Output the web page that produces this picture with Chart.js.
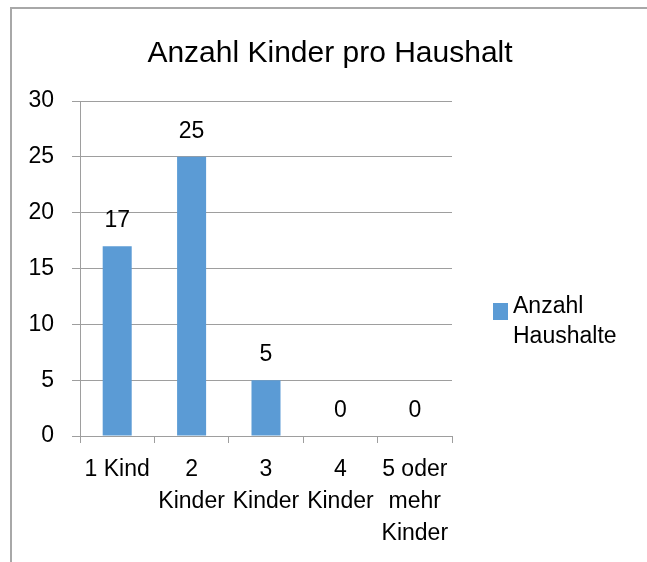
<!DOCTYPE html>
<html>
<head>
<meta charset="utf-8">
<script src="https://cdn.jsdelivr.net/npm/chart.js@4"></script>
<style>
  html, body { margin: 0; padding: 0; background: #fff; overflow: hidden; }
  #frame {
    position: absolute; left: 10px; top: 7px; width: 700px; height: 600px;
    border-top: 2px solid #a8a8a8; border-left: 2px solid #a8a8a8;
  }
  #wrap { position: absolute; left: 0; top: 0; width: 647px; height: 562px; }
</style>
</head>
<body>
<div id="frame"></div>
<div id="wrap"><canvas id="chart"></canvas></div>
<script>
// chart data
const chartTitle = 'Anzahl Kinder pro Haushalt';
const categories = ['1 Kind', ['2', 'Kinder'], ['3', 'Kinder'], ['4', 'Kinder'], ['5 oder', 'mehr', 'Kinder']];
const seriesName = 'Anzahl Haushalte';
const households = [17, 25, 5, 0, 0];
const yTicks = [0, 5, 10, 15, 20, 25, 30];

const BAR_COLOR = '#5b9bd5';
const GRID_COLOR = '#9e9e9e';
const FONT = "'Liberation Sans', Arial, sans-serif";

Chart.defaults.font.family = FONT;
Chart.defaults.color = '#000';

// title, value labels and the legend are drawn here
const extras = {
    id: 'extras',
    afterDatasetsDraw(chart) {
        const ctx = chart.ctx;
        const meta = chart.getDatasetMeta(0);
        ctx.save();
        ctx.fillStyle = '#000';
        ctx.font = '23px ' + FONT;
        ctx.textAlign = 'center';
        ctx.textBaseline = 'alphabetic';
        meta.data.forEach((bar, i) => {
            ctx.fillText(String(households[i]), bar.x, bar.y - 19);
        });
        ctx.restore();
    },
    afterDraw(chart) {
        const ctx = chart.ctx;
        const area = chart.chartArea;
        ctx.save();
        // title
        ctx.fillStyle = '#000';
        ctx.font = '30px ' + FONT;
        ctx.textAlign = 'center';
        ctx.textBaseline = 'alphabetic';
        ctx.fillText(chartTitle, 330, 62);

        // legend
        const lx = area.right + 41;
        const ly = 303;
        ctx.fillStyle = BAR_COLOR;
        ctx.fillRect(lx, ly, 15, 17);
        ctx.fillStyle = '#000';
        ctx.font = '23px ' + FONT;
        ctx.textAlign = 'left';
        const words = seriesName.split(' ');
        words.forEach((w, i) => {
            ctx.fillText(w, lx + 20, 313 + i * 30);
        });
        ctx.restore();
    }
};

new Chart(document.getElementById('chart'), {
    type: 'bar',
    data: {
        labels: categories,
        datasets: [{
            label: seriesName,
            data: households,
            backgroundColor: BAR_COLOR,
            borderWidth: 0,
            barPercentage: 0.39,
            categoryPercentage: 1
        }]
    },
    options: {
        responsive: true,
        maintainAspectRatio: false,
        animation: false,
        layout: { padding: { left: 0, top: 101, right: 195, bottom: 0 } },
        plugins: {
            legend: { display: false },
            title: { display: false },
            tooltip: { enabled: false }
        },
        scales: {
            x: {
                grid: {
                    drawOnChartArea: false,
                    drawTicks: true,
                    tickLength: 7,
                    color: GRID_COLOR
                },
                border: { display: true, color: GRID_COLOR },
                ticks: {
                    autoSkip: false,
                    maxRotation: 0,
                    padding: 11,
                    color: '#000',
                    font: { size: 23, lineHeight: 1.38 }
                },
                afterFit(scale) { scale.height = 126; }
            },
            y: {
                min: 0,
                max: 30,
                afterBuildTicks(scale) { scale.ticks = yTicks.map(v => ({ value: v })); },
                grid: {
                    color: GRID_COLOR,
                    drawTicks: true,
                    tickLength: 8
                },
                border: { display: true, color: GRID_COLOR },
                ticks: {
                    padding: 18,
                    color: '#000',
                    font: { size: 23 }
                },
                afterFit(scale) { scale.width = 80; }
            }
        }
    },
    plugins: [extras]
});
</script>
</body>
</html>
